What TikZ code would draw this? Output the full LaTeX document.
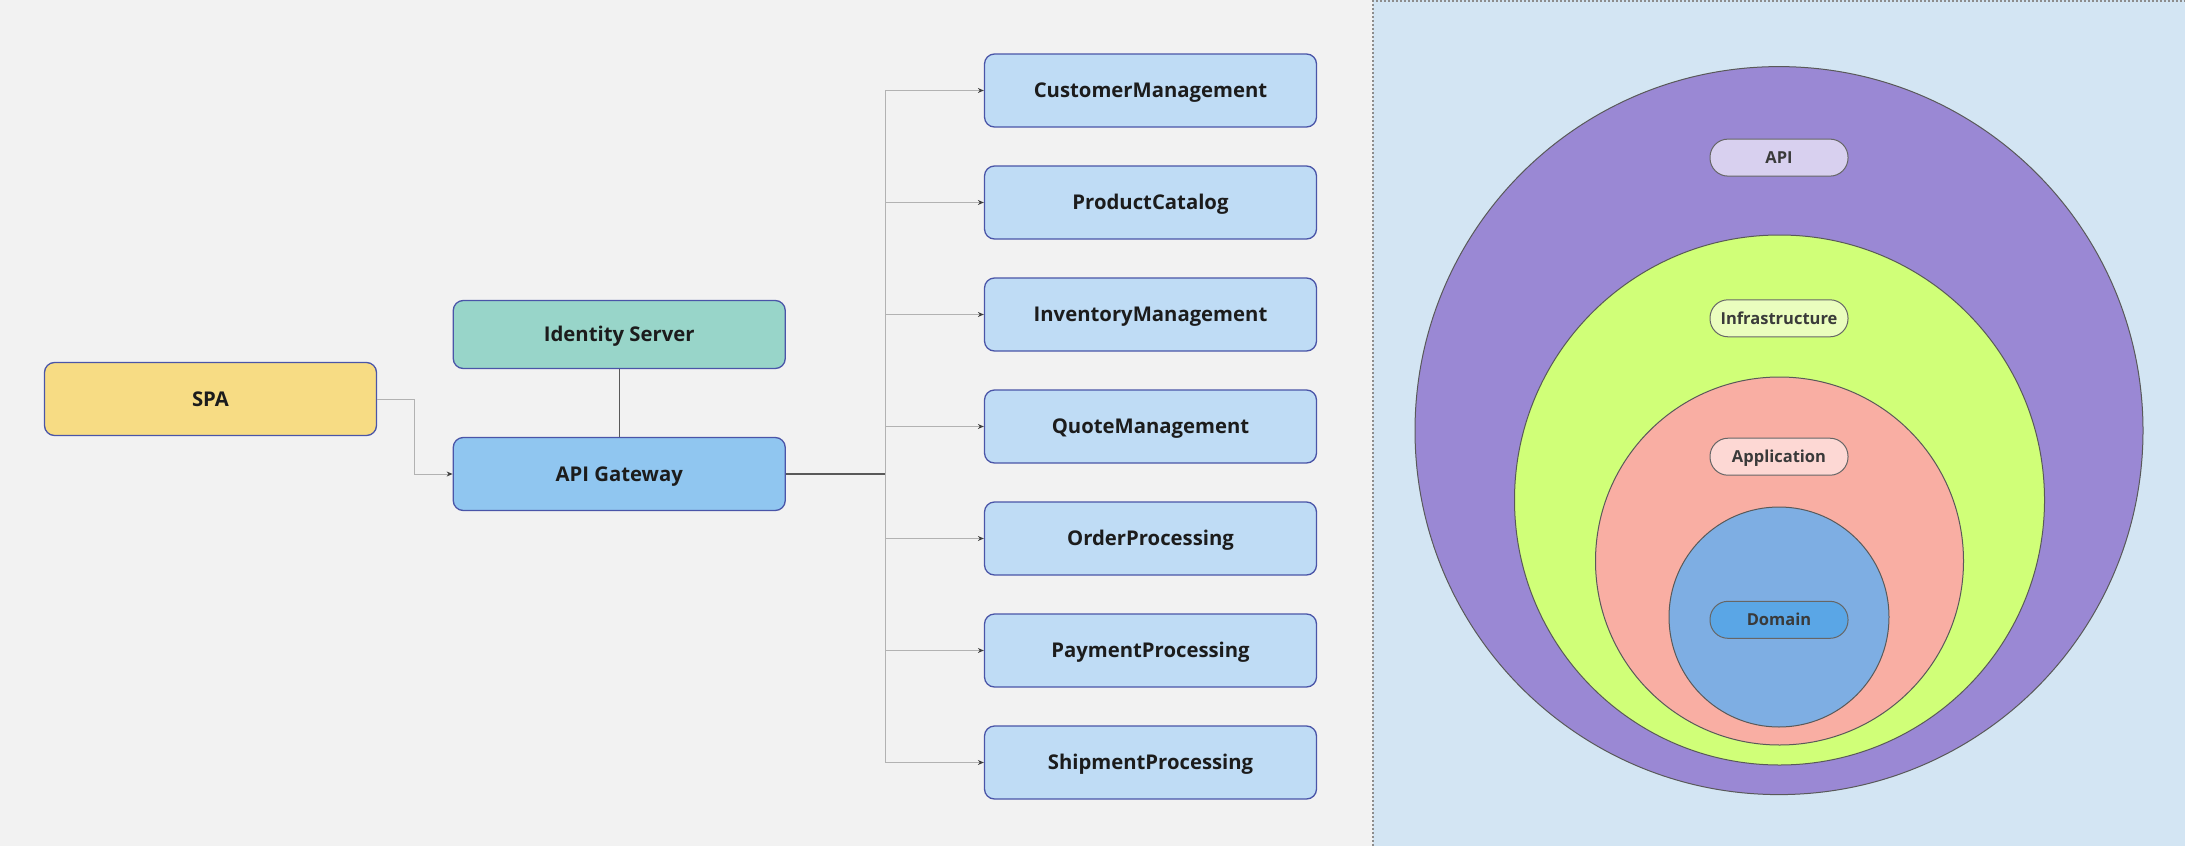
\documentclass[tikz,border=0pt]{standalone}
\usepackage{fontspec}
\setmainfont{Open Sans}
\usetikzlibrary{arrows.meta}
\definecolor{bgl}{HTML}{F2F2F2}
\definecolor{panel}{HTML}{D3E5F3}
\definecolor{bord}{HTML}{4A55A8}
\definecolor{spaf}{HTML}{F7DC84}
\definecolor{idsf}{HTML}{98D5C9}
\definecolor{gwf}{HTML}{90C6F0}
\definecolor{svcf}{HTML}{BFDCF5}
\definecolor{purp}{HTML}{9A88D4}
\definecolor{grn}{HTML}{D0FF78}
\definecolor{pnk}{HTML}{F9AEA3}
\definecolor{blu}{HTML}{7EAEE3}
\definecolor{pilla}{HTML}{D8D0EF}
\definecolor{pilli}{HTML}{EAFDBE}
\definecolor{pillp}{HTML}{FDD8D4}
\definecolor{pilld}{HTML}{5AA6E6}
\definecolor{txt}{HTML}{1C1C1C}
\definecolor{ptxt}{HTML}{3A3A3A}
\tikzset{
  box/.style={rectangle, rounded corners=10pt, minimum width=332pt, minimum height=73pt,
    draw=bord, line width=1.3pt, text=txt, font=\fontsize{20.3}{24}\selectfont\bfseries,
    inner sep=0pt, text height=14.5pt, text depth=0pt},
  conn/.style={draw=black!30, line width=1pt},
  darkc/.style={draw=black!65, line width=1.2pt},
  tip/.style={-{Stealth[length=6pt,width=5pt,color=black!75]}},
  ring/.style={circle, draw=black!65, line width=1pt, inner sep=0pt},
  pill/.style={rectangle, rounded corners=18pt, minimum width=138pt, minimum height=37pt,
    draw=black!60, line width=1pt, text=ptxt, font=\fontsize{16.5}{20}\selectfont\bfseries,
    inner sep=0pt, text height=11.8pt, text depth=0pt}
}
\begin{document}
\begin{tikzpicture}[x=1pt,y=-1pt]
\useasboundingbox (0,0) rectangle (2185,846);
\fill[bgl] (0,0) rectangle (2185,846);
\fill[panel] (1373,0) rectangle (2185,846);
\draw[black!45, line width=1.5pt, dash pattern=on 2pt off 2pt] (1373,846) -- (1373,0.75) -- (2185,0.75);

% left diagram
\node[box, fill=spaf] (spa) at (210.5,399) {SPA};
\node[box, fill=idsf, minimum height=68pt] (ids) at (619.25,334.5) {Identity Server};
\node[box, fill=gwf] (gw) at (619.25,474) {API Gateway};

\node[box, fill=svcf] (s1) at (1150.5,90.5) {CustomerManagement};
\node[box, fill=svcf] (s2) at (1150.5,202.5) {ProductCatalog};
\node[box, fill=svcf] (s3) at (1150.5,314.5) {InventoryManagement};
\node[box, fill=svcf] (s4) at (1150.5,426.5) {QuoteManagement};
\node[box, fill=svcf] (s5) at (1150.5,538.5) {OrderProcessing};
\node[box, fill=svcf] (s6) at (1150.5,650.5) {PaymentProcessing};
\node[box, fill=svcf] (s7) at (1150.5,762.5) {ShipmentProcessing};

\coordinate (j1) at (414.5,399);
\draw[conn, tip] (spa.east) -- (j1) |- (gw.west);
\draw[darkc] (ids.south) -- (gw.north);

\coordinate (trunk) at (885,474);
\draw[darkc] (gw.east) -- (trunk);
\draw[conn] (trunk |- s1.west) -- (trunk |- s7.west);
\foreach \s in {s1,s2,s3,s4,s5,s6,s7}{
  \draw[conn, tip] (trunk |- \s.west) -- (\s.west);
}

% onion
\node[ring, fill=purp, minimum size=728pt] (c1) at (1779,430.6) {};
\node[ring, fill=grn, minimum size=530pt] (c2) at (1779.5,500) {};
\node[ring, fill=pnk, minimum size=368pt] (c3) at (1779.5,561) {};
\node[ring, fill=blu, minimum size=220pt] (c4) at (1779,617) {};

\node[pill, fill=pilla] (papi) at (1779,157.6) {API};
\node[pill, fill=pilli] (pinf) at (1779,318.3) {Infrastructure};
\node[pill, fill=pillp] (papp) at (1779,456.7) {Application};
\node[pill, fill=pilld] (pdom) at (1779,619.8) {Domain};
\end{tikzpicture}
\end{document}
